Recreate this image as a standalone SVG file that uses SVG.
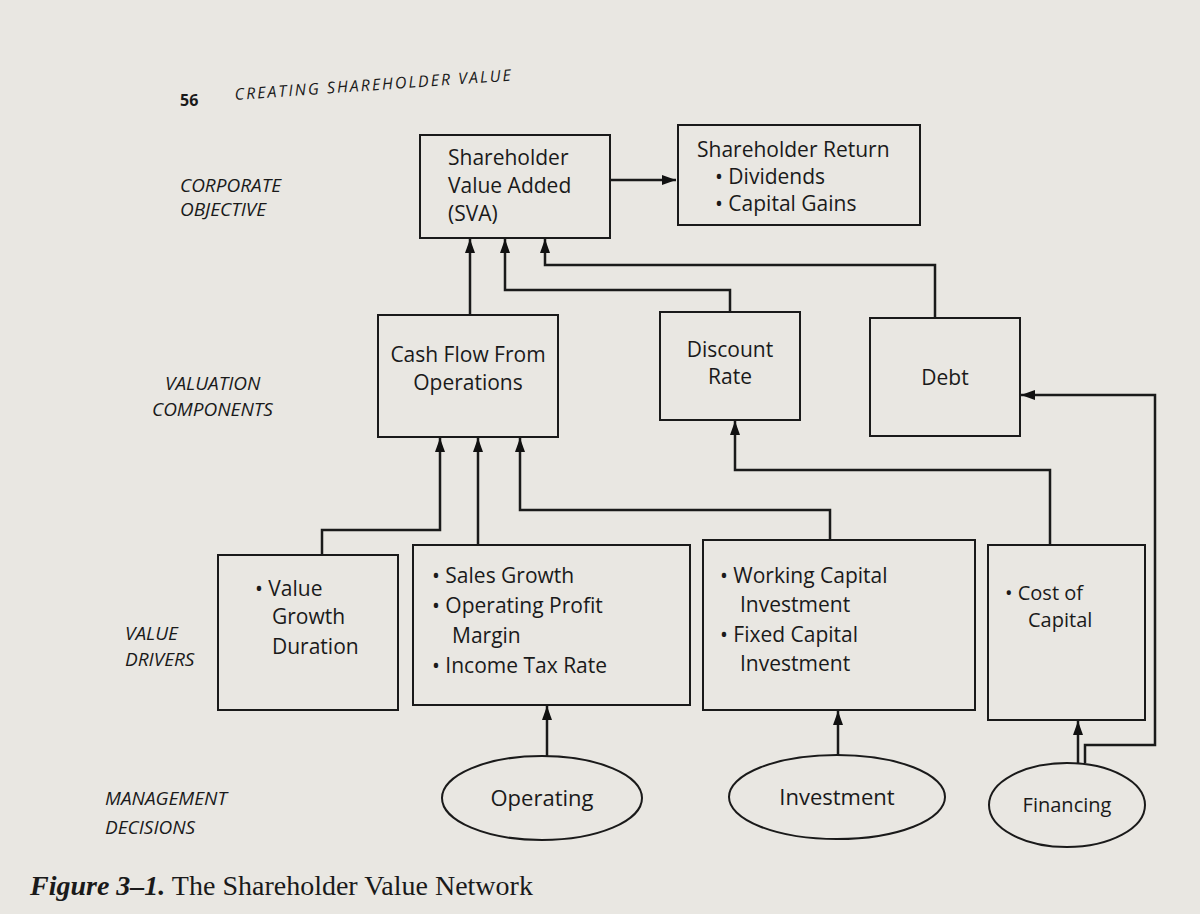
<svg xmlns="http://www.w3.org/2000/svg" width="1200" height="914" viewBox="0 0 1200 914">
<defs>
<marker id="ar" markerWidth="14" markerHeight="10" refX="14" refY="5" orient="auto" markerUnits="userSpaceOnUse" viewBox="0 0 14 10"><path d="M0,0 L14,5 L0,10 Z" fill="#111"/></marker>
</defs>
<style>
.b{fill:none;stroke:#1a1a1a;stroke-width:2}
.t{font-family:"Open Sans","DejaVu Sans",sans-serif;font-size:21px;fill:#1a1a1a}
.l{font-family:"Open Sans","DejaVu Sans",sans-serif;font-size:19px;font-style:italic;fill:#1a1a1a}
.c{fill:none;stroke:#1a1a1a;stroke-width:2.5}
</style>
<rect width="1200" height="914" fill="#e9e7e2"/>
<text x="180" y="106" class="l" style="font-style:normal;font-weight:bold;font-size:16px">56</text>
<text x="235" y="100" class="l" style="font-size:16px;letter-spacing:2px" transform="rotate(-4 235 100)">CREATING SHAREHOLDER VALUE</text>
<g id="labels">
<text x="180" y="192" class="l">CORPORATE</text><text x="180" y="216" class="l">OBJECTIVE</text>
<text x="165" y="390" class="l">VALUATION</text><text x="152" y="416" class="l">COMPONENTS</text>
<text x="125" y="640" class="l">VALUE</text><text x="125" y="666" class="l">DRIVERS</text>
<text x="105" y="805" class="l">MANAGEMENT</text><text x="105" y="834" class="l">DECISIONS</text>
</g>
<g id="sva"><rect x="420" y="135" width="190" height="103" class="b"/>
<text x="448" y="165" class="t">Shareholder</text><text x="448" y="193" class="t">Value Added</text><text x="448" y="221" class="t">(SVA)</text></g>
<g id="return"><rect x="678" y="125" width="242" height="100" class="b"/>
<text x="697" y="157" class="t">Shareholder Return</text><text x="715" y="184" class="t">• Dividends</text><text x="715" y="211" class="t">• Capital Gains</text></g>
<g id="cashflow"><rect x="378" y="315" width="180" height="122" class="b"/>
<text x="468" y="362" class="t" text-anchor="middle">Cash Flow From</text><text x="468" y="390" class="t" text-anchor="middle">Operations</text></g>
<g id="discount"><rect x="660" y="312" width="140" height="108" class="b"/>
<text x="730" y="357" class="t" text-anchor="middle">Discount</text><text x="730" y="384" class="t" text-anchor="middle">Rate</text></g>
<g id="debt"><rect x="870" y="318" width="150" height="118" class="b"/>
<text x="945" y="385" class="t" text-anchor="middle">Debt</text></g>
<g id="vgd"><rect x="218" y="555" width="180" height="155" class="b"/>
<text x="255" y="596" class="t">• Value</text><text x="272" y="624" class="t">Growth</text><text x="272" y="654" class="t">Duration</text></g>
<g id="sales"><rect x="413" y="545" width="277" height="160" class="b"/>
<text x="432" y="583" class="t">• Sales Growth</text><text x="432" y="613" class="t">• Operating Profit</text><text x="452" y="643" class="t">Margin</text><text x="432" y="673" class="t">• Income Tax Rate</text></g>
<g id="capital"><rect x="703" y="540" width="272" height="170" class="b"/>
<text x="720" y="583" class="t">• Working Capital</text><text x="740" y="612" class="t">Investment</text><text x="720" y="642" class="t">• Fixed Capital</text><text x="740" y="671" class="t">Investment</text></g>
<g id="costcap"><rect x="988" y="545" width="157" height="175" class="b"/>
<text x="1005" y="600" class="t" style="font-size:20px">• Cost of</text><text x="1028" y="627" class="t" style="font-size:20px">Capital</text></g>
<g id="operating"><ellipse cx="542" cy="798" rx="100" ry="42" class="b"/><text x="542" y="806" class="t" text-anchor="middle" style="font-size:22px">Operating</text></g>
<g id="investment"><ellipse cx="837" cy="797" rx="108" ry="42" class="b"/><text x="837" y="805" class="t" text-anchor="middle" style="font-size:22px">Investment</text></g>
<g id="financing"><ellipse cx="1067" cy="805" rx="78" ry="42" class="b"/><text x="1067" y="812" class="t" text-anchor="middle" style="font-size:20px">Financing</text></g>
<g id="connectors">
<path d="M610,180 H676" class="c" marker-end="url(#ar)"/>
<path d="M470,315 V239" class="c" marker-end="url(#ar)"/>
<path d="M730,312 V290 H505 V239" class="c" marker-end="url(#ar)"/>
<path d="M935,318 V265 H545 V239" class="c" marker-end="url(#ar)"/>
<path d="M322,555 V530 H440 V438" class="c" marker-end="url(#ar)"/>
<path d="M478,545 V438" class="c" marker-end="url(#ar)"/>
<path d="M830,540 V510 H520 V438" class="c" marker-end="url(#ar)"/>
<path d="M1050,545 V470 H735 V421" class="c" marker-end="url(#ar)"/>
<path d="M1085,763 V745 H1155 V395 H1021" class="c" marker-end="url(#ar)"/>
<path d="M1078,763 V721" class="c" marker-end="url(#ar)"/>
<path d="M547,756 V706" class="c" marker-end="url(#ar)"/>
<path d="M838,755 V711" class="c" marker-end="url(#ar)"/>
</g>
<text x="30" y="895" style="font-family:'Liberation Serif',serif;font-size:28px;fill:#1a1a1a"><tspan font-style="italic" font-weight="bold">Figure 3–1.</tspan> The Shareholder Value Network</text>
</svg>
